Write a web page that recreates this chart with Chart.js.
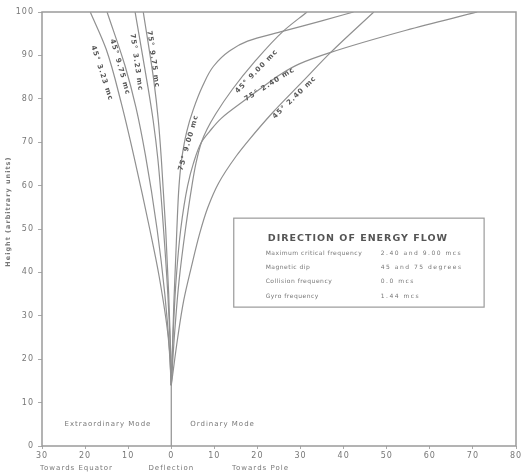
<!DOCTYPE html>
<html><head><meta charset="utf-8">
<script src="https://cdn.jsdelivr.net/npm/chart.js@4/dist/chart.umd.min.js"></script>
<style>html,body{margin:0;padding:0;background:#fff}</style>
</head><body>
<canvas id="c" width="525" height="473"></canvas>
<script>
// ---- axis ticks ----
const xTickValues = [-30,-20,-10,0,10,20,30,40,50,60,70,80];
const xTickLabels = ['30','20','10','0','10','20','30','40','50','60','70','80'];
const yTickValues = [0,10,20,30,40,50,60,70,80,90,100];
const yTickLabels = ['0','10','20','30','40','50','60','70','80','90','100'];

// ---- common stem (all rays start at the origin) ----
const stemX = [0, 0];
const stemY = [0, 14];

// ---- extraordinary mode (deflected towards equator) ----
const ex45f323X = [0, -0.7, -2.8, -5.0, -8.5, -11.6, -15.1, -18.8];
const ex45f323Y = [14, 25, 39, 50, 66, 79, 91.4, 100];
const ex45f975X = [0, -0.4, -1.5, -3.3, -6.0, -8.2, -10.7, -14.9];
const ex45f975Y = [14, 22, 35, 50, 67, 78, 87.5, 100];
const ex75f323X = [0, -0.2, -0.8, -1.8, -3.1, -4.2, -5.6, -8.4];
const ex75f323Y = [14, 22, 35, 50, 66, 75, 83.8, 100];
const ex75f975X = [0, -0.15, -0.6, -1.3, -2.3, -3.0, -4.0, -6.5];
const ex75f975Y = [14, 22, 35, 50, 66, 75, 83.8, 100];

// ---- ordinary mode (deflected towards pole) ----
const or75f900X = [0, 0.2, 0.6, 1.3, 1.8, 2.4, 3.6, 5.1, 7.3, 9.8, 13.5, 17.7, 26, 34.7, 42.3];
const or75f900Y = [14, 20, 33, 50, 60, 66, 72.5, 77.5, 83, 87.5, 91, 93.3, 95.6, 97.9, 100];
const or45f900X = [0, 0.7, 1.8, 3.3, 4.8, 5.7, 7.0, 8.3, 10.3, 14.2, 19.3, 26, 31.5];
const or45f900Y = [14, 25, 38, 50, 60, 65, 70, 73, 76.5, 82.2, 88.5, 95.6, 100];
const or75f240X = [0, 0.4, 1.1, 2.2, 3.8, 5.1, 7.0, 8.9, 11.6, 17.5, 21.6, 25.3, 29.6, 37, 54.5, 71];
const or75f240Y = [14, 25, 38, 50, 60, 65, 70, 72.5, 75.5, 80, 83, 85.6, 88, 90.7, 95.8, 100];
const or45f240X = [0, 1.5, 2.9, 4.6, 6.6, 8.5, 11.0, 15.0, 18.1, 23.6, 30.5, 37, 47];
const or45f240Y = [14, 25, 33.6, 41, 49, 55, 60.6, 66.7, 70.6, 76.9, 84, 90.7, 100];

// ---- curve labels (text, anchor in data units, angle in degrees) ----
const curveLabelText = ['45° 3.23 mc','45° 9.75 mc','75° 3.23 mc','75° 9.75 mc',
                        '75° 9.00 mc','45° 9.00 mc','75° 2.40 mc','45° 2.40 mc'];
const curveLabelX = [-16.1, -11.9, -8.1, -4.2, 4.0, 19.8, 22.8, 28.6];
const curveLabelY = [85.9, 87.3, 88.4, 89.1, 69.9, 86.3, 83.3, 80.3];
const curveLabelAngle = [72, 74, 82, 82, -74, -46, -32, -44];

// ---- info box ----
const infoTitle = 'DIRECTION OF ENERGY FLOW';
const infoNames = ['Maximum critical frequency','Magnetic dip','Collision frequency','Gyro frequency'];
const infoValues = ['2.40 and 9.00 mcs','45 and 75 degrees','0.0 mcs','1.44 mcs'];

// ---- other text ----
const modeText = ['Extraordinary Mode','Ordinary Mode'];
const modeX = [-14.7, 11.9];
const directionText = ['Towards Equator','Deflection','Towards Pole'];
const directionX = [-22, 0, 20.7];
const yTitle = 'Height (arbitrary units)';

function pts(xs, ys){ return xs.map((v,i)=>({x:v, y:ys[i]})); }
const LINE = '#909090';
function ds(xs, ys){
  return {data: pts(xs, ys), borderColor: LINE, borderWidth: 1.2, pointRadius: 0,
          indexAxis: 'y', cubicInterpolationMode: 'monotone', fill: false, showLine: true};
}

const annot = {
  id: 'annot',
  beforeDraw(chart){ try { chart.ctx.letterSpacing = '1px'; } catch(e){} },
  afterDatasetsDraw(chart){
    const {ctx, chartArea: a, scales: {x, y}} = chart;
    ctx.save();
    ctx.strokeStyle = '#9a9a9a'; ctx.lineWidth = 1.5;
    ctx.strokeRect(a.left, a.top, a.right - a.left, a.bottom - a.top);

    // curve labels
    ctx.fillStyle = '#555'; ctx.font = 'bold 7px "DejaVu Sans"';
    ctx.textAlign = 'center'; ctx.textBaseline = 'middle';
    try { ctx.letterSpacing = '1px'; } catch(e){}
    curveLabelText.forEach((t,i)=>{
      ctx.save();
      ctx.translate(x.getPixelForValue(curveLabelX[i]), y.getPixelForValue(curveLabelY[i]));
      ctx.rotate(curveLabelAngle[i] * Math.PI / 180);
      ctx.fillText(t, 0, 0);
      ctx.restore();
    });

    // info box
    const bx0 = x.getPixelForValue(14.5), bx1 = x.getPixelForValue(72.6);
    const by0 = y.getPixelForValue(52.5), by1 = y.getPixelForValue(32);
    ctx.strokeStyle = '#9a9a9a'; ctx.lineWidth = 1.2;
    ctx.strokeRect(bx0, by0, bx1 - bx0, by1 - by0);
    ctx.fillStyle = '#555'; ctx.font = 'bold 9.5px "DejaVu Sans"';
    try { ctx.letterSpacing = '1px'; } catch(e){}
    ctx.fillText(infoTitle, x.getPixelForValue(43.3), y.getPixelForValue(47.9));
    ctx.font = '6px "DejaVu Sans"'; ctx.fillStyle = '#777'; ctx.textAlign = 'left';
    const rowY = [44.4, 41.2, 38.0, 34.5];
    infoNames.forEach((t,i)=>{
      try { ctx.letterSpacing = '0.5px'; } catch(e){}
      ctx.fillText(t, x.getPixelForValue(21.9), y.getPixelForValue(rowY[i]));
      try { ctx.letterSpacing = '1.5px'; } catch(e){}
      ctx.fillText(infoValues[i], x.getPixelForValue(48.6), y.getPixelForValue(rowY[i]));
    });

    // mode labels
    ctx.textAlign = 'center'; ctx.font = '7px "DejaVu Sans"'; ctx.fillStyle = '#777';
    try { ctx.letterSpacing = '1px'; } catch(e){}
    modeText.forEach((t,i)=> ctx.fillText(t, x.getPixelForValue(modeX[i]), y.getPixelForValue(5.1)));

    // direction labels below x axis
    directionText.forEach((t,i)=> ctx.fillText(t, x.getPixelForValue(directionX[i]), a.bottom + 22));

    // y axis title
    ctx.save();
    ctx.translate(8, y.getPixelForValue(54));
    ctx.rotate(-Math.PI / 2);
    ctx.font = 'bold 6.5px "DejaVu Sans"';
    ctx.fillText(yTitle, 0, 0);
    ctx.restore();
    ctx.restore();
  }
};

new Chart(document.getElementById('c'), {
  type: 'scatter',
  data: { datasets: [
    ds(stemX, stemY),
    ds(ex45f323X, ex45f323Y), ds(ex45f975X, ex45f975Y), ds(ex75f323X, ex75f323Y), ds(ex75f975X, ex75f975Y),
    ds(or75f900X, or75f900Y), ds(or45f900X, or45f900Y), ds(or75f240X, or75f240Y), ds(or45f240X, or45f240Y)
  ]},
  options: {
    responsive: false, animation: false, devicePixelRatio: 1,
    layout: { padding: { top: 12, right: 9, left: 0, bottom: 0 } },
    plugins: { legend: { display: false }, tooltip: { enabled: false } },
    scales: {
      x: {
        type: 'linear', min: -30, max: 80,
        afterBuildTicks: s => { s.ticks = xTickValues.map(v => ({value: v})); },
        afterFit: s => { s.height = 27; },
        ticks: { callback: (v) => xTickLabels[xTickValues.indexOf(v)], color: '#777',
                 font: { family: 'DejaVu Sans', size: 8 }, padding: 2, maxRotation: 0, autoSkip: false },
        grid: { drawOnChartArea: false, drawTicks: true, tickLength: 3, color: '#aaa' },
        border: { display: false }
      },
      y: {
        type: 'linear', min: 0, max: 100,
        afterBuildTicks: s => { s.ticks = yTickValues.map(v => ({value: v})); },
        afterFit: s => { s.width = 42; },
        ticks: { callback: (v) => yTickLabels[yTickValues.indexOf(v)], color: '#777',
                 font: { family: 'DejaVu Sans', size: 8 }, padding: 4, autoSkip: false },
        grid: { drawOnChartArea: false, drawTicks: true, tickLength: 4, color: '#aaa' },
        border: { display: false }
      }
    }
  },
  plugins: [annot]
});
</script>
</body></html>
